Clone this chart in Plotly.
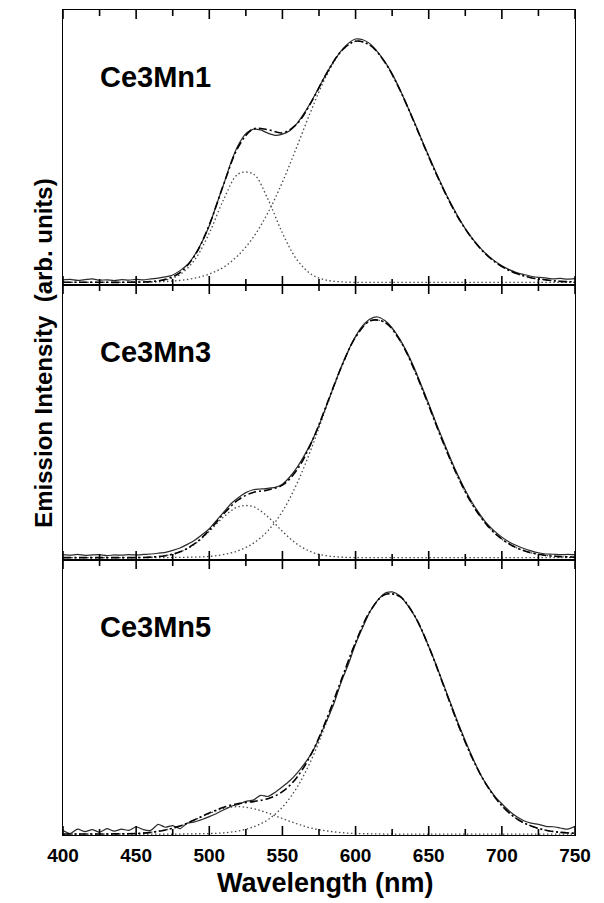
import plotly.graph_objects as go

# ---------------- data ----------------
# wavelength grids (nm)
wl_fine = list(range(400, 751, 5))     # measured spectra
wl = list(range(400, 751, 10))         # fitted curve and components

panel_labels = ["Ce3Mn1", "Ce3Mn3", "Ce3Mn5"]

# measured emission (normalised, arb. units)
meas_ce3mn1 = [0.010, 0.012, 0.008, 0.011, 0.014, 0.009, 0.010, 0.007, 0.011, 0.009,
               0.012, 0.010, 0.014, 0.017, 0.022, 0.030, 0.048, 0.072, 0.112, 0.165,
               0.232, 0.320, 0.405, 0.495, 0.565, 0.610, 0.628, 0.625, 0.612, 0.603,
               0.608, 0.622, 0.652, 0.695, 0.745, 0.800, 0.855, 0.905, 0.948, 0.980,
               0.998, 0.995, 0.978, 0.945, 0.905, 0.855, 0.795, 0.728, 0.660, 0.588,
               0.518, 0.450, 0.385, 0.325, 0.270, 0.220, 0.178, 0.142, 0.112, 0.088,
               0.068, 0.052, 0.040, 0.032, 0.025, 0.020, 0.018, 0.014, 0.016, 0.013,
               0.015]
meas_ce3mn3 = [0.012, 0.010, 0.013, 0.009, 0.011, 0.012, 0.008, 0.011, 0.010, 0.012,
               0.011, 0.013, 0.015, 0.018, 0.022, 0.030, 0.040, 0.055, 0.072, 0.095,
               0.120, 0.155, 0.190, 0.225, 0.250, 0.270, 0.282, 0.285, 0.288, 0.292,
               0.305, 0.335, 0.375, 0.425, 0.482, 0.550, 0.630, 0.710, 0.790, 0.860,
               0.920, 0.965, 0.992, 1.000, 0.985, 0.955, 0.910, 0.855, 0.790, 0.715,
               0.640, 0.560, 0.485, 0.410, 0.342, 0.280, 0.226, 0.180, 0.140, 0.110,
               0.085, 0.065, 0.050, 0.038, 0.028, 0.020, 0.015, 0.014, 0.012, 0.013,
               0.012]
meas_ce3mn5 = [0.014, 0.002, 0.020, 0.010, 0.018, 0.008, 0.022, 0.012, 0.020, 0.015,
               0.030, 0.018, 0.015, 0.040, 0.028, 0.035, 0.022, 0.045, 0.050, 0.060,
               0.072, 0.085, 0.100, 0.115, 0.122, 0.135, 0.140, 0.160, 0.155, 0.172,
               0.195, 0.220, 0.252, 0.290, 0.335, 0.395, 0.465, 0.535, 0.625, 0.700,
               0.785, 0.855, 0.920, 0.965, 0.995, 1.000, 0.985, 0.950, 0.905, 0.845,
               0.775, 0.700, 0.620, 0.540, 0.460, 0.385, 0.315, 0.250, 0.200, 0.158,
               0.125, 0.095, 0.072, 0.055, 0.045, 0.040, 0.032, 0.030, 0.025, 0.020,
               0.032]

# total fit (dash-dot)
fit_ce3mn1 = [0, 0, 0, 0, 0, 0.001, 0.003, 0.012, 0.040, 0.109, 0.236, 0.405, 0.557,
              0.629, 0.626, 0.613, 0.650, 0.742, 0.855, 0.947, 0.989, 0.972, 0.903,
              0.793, 0.657, 0.515, 0.382, 0.267, 0.177, 0.110, 0.065, 0.036, 0.019,
              0.010, 0.004, 0.002]
fit_ce3mn3 = [0, 0, 0, 0, 0, 0, 0.002, 0.008, 0.024, 0.058, 0.114, 0.183, 0.241,
              0.271, 0.281, 0.301, 0.365, 0.480, 0.632, 0.788, 0.916, 0.984, 0.978,
              0.906, 0.783, 0.632, 0.476, 0.335, 0.219, 0.134, 0.077, 0.041, 0.020,
              0.009, 0.004, 0.002]
fit_ce3mn5 = [0, 0, 0, 0, 0.001, 0.002, 0.007, 0.017, 0.033, 0.059, 0.087, 0.111,
              0.126, 0.134, 0.146, 0.175, 0.235, 0.334, 0.472, 0.633, 0.792, 0.921,
              0.989, 0.982, 0.905, 0.775, 0.616, 0.454, 0.311, 0.198, 0.117, 0.064,
              0.033, 0.016, 0.007, 0.003]

# green (Ce3+) component, dotted
green_ce3mn1 = [0, 0, 0, 0, 0, 0, 0.002, 0.009, 0.032, 0.092, 0.202, 0.342, 0.445,
                0.445, 0.342, 0.202, 0.092, 0.032, 0.009, 0.002, 0, 0, 0, 0, 0, 0,
                0, 0, 0, 0, 0, 0, 0, 0, 0, 0]
green_ce3mn3 = [0, 0, 0, 0, 0, 0, 0.002, 0.008, 0.023, 0.056, 0.109, 0.170, 0.212,
                0.212, 0.170, 0.109, 0.056, 0.023, 0.008, 0.002, 0, 0, 0, 0, 0, 0,
                0, 0, 0, 0, 0, 0, 0, 0, 0, 0]
green_ce3mn5 = [0, 0, 0, 0, 0.001, 0.002, 0.007, 0.017, 0.033, 0.058, 0.085, 0.106,
                0.113, 0.105, 0.087, 0.064, 0.042, 0.024, 0.013, 0.006, 0.002, 0.001,
                0, 0, 0, 0, 0, 0, 0, 0, 0, 0, 0, 0, 0, 0]

# red (Mn2+) component, dotted
red_ce3mn1 = [0, 0, 0, 0, 0, 0.001, 0.001, 0.003, 0.008, 0.017, 0.034, 0.063, 0.112,
              0.184, 0.284, 0.411, 0.558, 0.710, 0.846, 0.945, 0.989, 0.972, 0.903,
              0.793, 0.657, 0.515, 0.382, 0.267, 0.177, 0.110, 0.065, 0.036, 0.019,
              0.010, 0.004, 0.002]
red_ce3mn3 = [0, 0, 0, 0, 0, 0, 0, 0, 0.001, 0.002, 0.005, 0.013, 0.029, 0.059,
              0.111, 0.192, 0.309, 0.457, 0.624, 0.786, 0.916, 0.984, 0.978, 0.906,
              0.783, 0.632, 0.476, 0.335, 0.219, 0.134, 0.077, 0.041, 0.020, 0.009,
              0.004, 0.002]
red_ce3mn5 = [0, 0, 0, 0, 0, 0, 0, 0, 0, 0.001, 0.002, 0.005, 0.013, 0.029, 0.059,
              0.111, 0.193, 0.310, 0.459, 0.627, 0.790, 0.920, 0.989, 0.982, 0.905,
              0.775, 0.616, 0.454, 0.311, 0.198, 0.117, 0.064, 0.033, 0.016, 0.007,
              0.003]

x_tick_vals = [400, 450, 500, 550, 600, 650, 700, 750]
x_tick_text = ["400", "450", "500", "550", "600", "650", "700", "750"]
x_minor_vals = [425, 475, 525, 575, 625, 675, 725]

measured = [meas_ce3mn1, meas_ce3mn3, meas_ce3mn5]
fits = [fit_ce3mn1, fit_ce3mn3, fit_ce3mn5]
greens = [green_ce3mn1, green_ce3mn3, green_ce3mn5]
reds = [red_ce3mn1, red_ce3mn3, red_ce3mn5]
y_ranges = [[-0.011, 1.117], [-0.010, 1.133], [-0.004, 1.132]]
y_domains = [[2 / 3, 1], [1 / 3, 2 / 3], [0, 1 / 3]]

# ---------------- figure ----------------
fig = go.Figure()

FONT = "Liberation Sans, Arial, Helvetica, sans-serif"
dot_style = dict(color="#4a4a4a", width=1.3, dash="1.5px,2.5px")
xr = [x_tick_vals[0], x_tick_vals[-1]]

layout_axes = {}
shapes = []
for i in range(3):
    k = i + 1
    xa = "x" if k == 1 else f"x{k}"
    ya = "y" if k == 1 else f"y{k}"
    for ys in (greens[i], reds[i]):
        fig.add_trace(go.Scatter(x=wl, y=ys, xaxis=xa, yaxis=ya, mode="lines",
                                 line=dict(shape="spline", **dot_style),
                                 showlegend=False, hoverinfo="skip"))
    fig.add_trace(go.Scatter(x=wl_fine, y=measured[i], xaxis=xa, yaxis=ya, mode="lines",
                             line=dict(color="#2a2a2a", width=1.2, shape="spline", smoothing=0.6),
                             showlegend=False, hoverinfo="skip"))
    fig.add_trace(go.Scatter(x=wl, y=fits[i], xaxis=xa, yaxis=ya, mode="lines",
                             line=dict(color="#000000", width=1.6, shape="spline",
                                       dash="8px,3px,2px,3px"),
                             showlegend=False, hoverinfo="skip"))

    layout_axes["xaxis" if k == 1 else f"xaxis{k}"] = dict(
        anchor=ya, domain=[0, 1], range=xr, tickmode="array",
        tickvals=x_tick_vals, ticktext=x_tick_text, ticks="",
        showline=True, linewidth=1.3, linecolor="black", mirror=True,
        showgrid=False, zeroline=False, showticklabels=(k == 3),
        tickfont=dict(family=FONT, size=19, color="black", weight="bold"),
        ticklabelstandoff=3)
    layout_axes["yaxis" if k == 1 else f"yaxis{k}"] = dict(
        anchor=xa, domain=y_domains[i], range=y_ranges[i], showline=True, linewidth=1.3,
        linecolor="black", mirror=True, ticks="", showticklabels=False,
        showgrid=False, zeroline=False)

    # inward tick marks on bottom and top edge of each panel (positions from tick lists)
    for vals, tlen in ((x_tick_vals, 9), (x_minor_vals, 6)):
        for v in vals:
            for edge, sign in ((0, 1), (1, -1)):
                shapes.append(dict(type="line", xref=xa, yref=f"{ya} domain",
                                   x0=v, x1=v, ysizemode="pixel", yanchor=edge,
                                   y0=0, y1=sign * tlen, layer="above",
                                   line=dict(color="black", width=1.6)))

fig.update_layout(**layout_axes)
fig.update_layout(
    width=604, height=903,
    margin=dict(l=63, r=29, t=10, b=68),
    paper_bgcolor="white", plot_bgcolor="white",
    showlegend=False, shapes=shapes,
)

annos = []
for i, lab in enumerate(panel_labels):
    annos.append(dict(text=lab, xref=f"x{'' if i == 0 else i + 1} domain",
                      yref=f"y{'' if i == 0 else i + 1} domain",
                      x=0.068, y=0.755, xanchor="left", yanchor="middle", showarrow=False,
                      font=dict(family=FONT, size=29, color="black", weight="bold")))
annos.append(dict(text="Wavelength (nm)", xref="paper", yref="paper", x=0.512, y=-0.058,
                  xanchor="center", yanchor="middle", showarrow=False,
                  font=dict(family=FONT, size=27, color="black", weight="bold")))
annos.append(dict(text="Emission Intensity\u00a0 (arb. units)", xref="paper", yref="paper",
                  x=-0.038, y=0.584, xanchor="center", yanchor="middle", textangle=-90,
                  showarrow=False,
                  font=dict(family=FONT, size=24, color="black", weight="bold")))
fig.update_layout(annotations=annos)

fig.write_html("out.html", config={"displayModeBar": False},
               post_script="document.body.style.margin='0';")
